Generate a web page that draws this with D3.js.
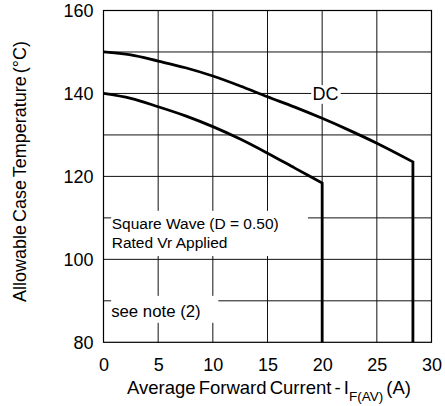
<!DOCTYPE html>
<html><head><meta charset="utf-8">
<script src="https://cdn.jsdelivr.net/npm/d3@7"></script>
<style>
body{margin:0;background:#fff;}
text{font-family:"Liberation Sans",Arial,sans-serif;fill:#000;}
</style></head>
<body><svg id="c" width="445" height="406"></svg>
<script>
const xTicks = [0,5,10,15,20,25,30];
const yTicks = [80,100,120,140,160];
const yGrid = [90,100,110,120,130,140,150];
const dcX = [0, 2.5, 5, 7.5, 10, 12.5, 15, 17.5, 20, 22.5, 25, 28.3];
const dcY = [150, 149.3, 147.8, 146.2, 144.2, 141.8, 139.2, 136.7, 134.0, 131.1, 128.0, 123.5];
const sqX = [0, 2.5, 5, 7.5, 10, 12.5, 15, 17.5, 20];
const sqY = [140, 138.8, 136.8, 134.6, 132.0, 129.0, 125.6, 122.0, 118.4];
const xTitle = "Average Forward Current - I";
const xSub = "F(AV)";
const xUnit = " (A)";
const yTitle = "Allowable Case Temperature (°C)";
const labelDC = "DC";
const noteLines = ["Square Wave (D = 0.50)", "Rated Vr Applied"];
const note2 = "see note (2)";

const svg = d3.select("#c");
const L=103.5, R=431.5, T=10.5, B=342.3;
const x = d3.scaleLinear().domain([0,30]).range([L,R]);
const y = d3.scaleLinear().domain([80,160]).range([B,T]);
const g = svg.append("g");

// grid
g.selectAll(".vg").data(xTicks.slice(1,-1)).join("line")
 .attr("x1",d=>x(d)).attr("x2",d=>x(d)).attr("y1",T).attr("y2",B)
 .attr("stroke","#111").attr("stroke-width",1);
g.selectAll(".hg").data(yGrid).join("line")
 .attr("x1",L).attr("x2",R).attr("y1",d=>y(d)).attr("y2",d=>y(d))
 .attr("stroke","#111").attr("stroke-width",1);

// white boxes behind labels
function box(x0,y0,x1,y1){g.append("rect").attr("x",x0).attr("y",y0).attr("width",x1-x0).attr("height",y1-y0).attr("fill","#fff");}
box(x(0.7), y(111.7), x(18.7), y(100.8));
box(x(0.7), y(91.2), x(10.5), y(84.7));
box(x(19.0), y(142), x(21.7), y(137.5));

// frame
g.append("rect").attr("x",L).attr("y",T).attr("width",R-L).attr("height",B-T)
 .attr("fill","none").attr("stroke","#000").attr("stroke-width",1.2);

// axes
const xa = svg.append("g").attr("transform",`translate(0,${B})`)
 .call(d3.axisBottom(x).tickValues(xTicks).tickSize(0).tickPadding(16));
xa.select(".domain").remove();
xa.selectAll("text").attr("font-size",18).attr("font-family","Liberation Sans, Arial, sans-serif");
const ya = svg.append("g").attr("transform",`translate(${L},0)`)
 .call(d3.axisLeft(y).tickValues(yTicks).tickSize(0).tickPadding(10));
ya.select(".domain").remove();
ya.selectAll("text").attr("font-size",18).attr("font-family","Liberation Sans, Arial, sans-serif");

// curves
const line = d3.line().x(d=>x(d[0])).y(d=>y(d[1])).curve(d3.curveMonotoneX);
function curve(xs, ys){
  const pts = xs.map((v,i)=>[v, ys[i]]);
  const last = xs[xs.length-1];
  return line(pts) + `L${x(last)},${y(80)}`;
}
g.append("path").attr("d",curve(dcX,dcY)).attr("fill","none").attr("stroke","#000")
 .attr("stroke-width",2.8).attr("stroke-linejoin","miter");
g.append("path").attr("d",curve(sqX,sqY)).attr("fill","none").attr("stroke","#000")
 .attr("stroke-width",2.8).attr("stroke-linejoin","miter");

// labels
g.append("text").attr("x",x(20.3)).attr("y",y(140)+6.5).attr("text-anchor","middle")
 .attr("font-size",18).text(labelDC);
noteLines.forEach((t,i)=>{
  g.append("text").attr("x",x(0.75)).attr("y",229+i*18.5).attr("font-size",15.5).text(t);
});
g.append("text").attr("x",x(0.7)).attr("y",316.5).attr("font-size",16.8).text(note2);

// axis titles
const xt = svg.append("text").attr("x",269).attr("y",394).attr("text-anchor","middle")
 .attr("font-size",18.5).attr("word-spacing",-2);
xt.append("tspan").text(xTitle);
xt.append("tspan").attr("font-size",13.5).attr("dy",7).text(xSub);
xt.append("tspan").attr("dy",-7).text(xUnit);
svg.append("text").attr("transform",`translate(26,171.5) rotate(-90)`)
 .attr("text-anchor","middle").attr("font-size",18).attr("word-spacing",-2).text(yTitle);
</script></body></html>
